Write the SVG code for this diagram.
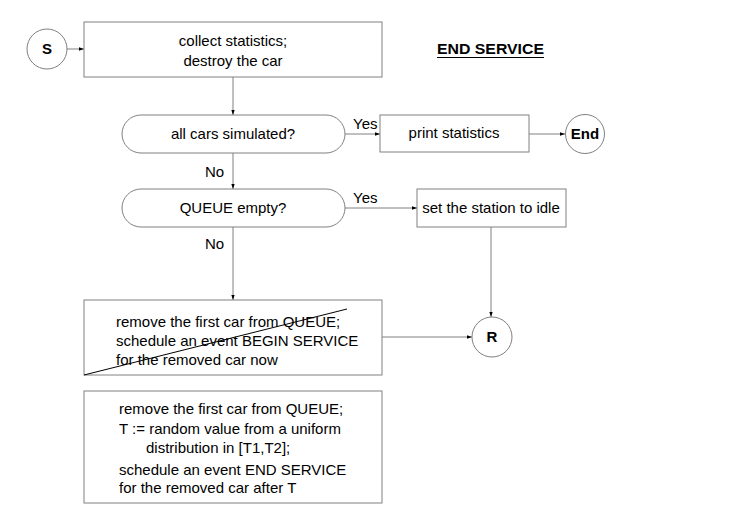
<svg xmlns="http://www.w3.org/2000/svg" width="743" height="506" viewBox="0 0 743 506">
<style>
.box{fill:#fff;stroke:#808080;stroke-width:1}
.ln{fill:none;stroke:#808080;stroke-width:1}
.t{font-family:"Liberation Sans",Arial,sans-serif;font-size:15px;fill:#000}
.c{text-anchor:middle}
.b{font-weight:bold}
</style>
<defs>
<marker id="ah" viewBox="0 0 6 6" refX="6" refY="3" markerWidth="5" markerHeight="5" markerUnits="userSpaceOnUse" orient="auto">
<path d="M0,1 L6,3 L0,5 Z" fill="#000"/>
</marker>
</defs>
<rect width="743" height="506" fill="#fff"/>
<g id="connectors">
<line class="ln" x1="67" y1="49" x2="84" y2="49" marker-end="url(#ah)"/>
<line class="ln" x1="233" y1="77" x2="233" y2="115" marker-end="url(#ah)"/>
<line class="ln" x1="345" y1="134" x2="380" y2="134" marker-end="url(#ah)"/>
<line class="ln" x1="529" y1="134" x2="565" y2="134" marker-end="url(#ah)"/>
<line class="ln" x1="233" y1="153" x2="233" y2="189" marker-end="url(#ah)"/>
<line class="ln" x1="345" y1="208" x2="417" y2="208" marker-end="url(#ah)"/>
<line class="ln" x1="491" y1="227" x2="491" y2="317" marker-end="url(#ah)"/>
<line class="ln" x1="233" y1="227" x2="233" y2="300" marker-end="url(#ah)"/>
<line class="ln" x1="382" y1="337" x2="472" y2="337" marker-end="url(#ah)"/>
<text class="t" x="353" y="129">Yes</text>
<text class="t" x="353" y="203">Yes</text>
<text class="t" x="205" y="177">No</text>
<text class="t" x="205" y="249">No</text>
</g>
<g id="start">
<circle class="box" cx="47" cy="49" r="20"/>
<text class="t c b" x="47" y="54">S</text>
</g>
<g id="collect">
<rect class="box" x="84" y="22" width="298" height="55"/>
<text class="t c" x="233" y="46">collect statistics;</text>
<text class="t c" x="233" y="66">destroy the car</text>
</g>
<g id="title">
<text class="t b" x="437" y="54" font-size="16" textLength="107" lengthAdjust="spacingAndGlyphs">END SERVICE</text>
<line x1="437" y1="57.5" x2="544" y2="57.5" stroke="#000" stroke-width="1.2"/>
</g>
<g id="allcars">
<rect class="box" x="122" y="115" width="223" height="38" rx="19" ry="19"/>
<text class="t c" x="233" y="139">all cars simulated?</text>
</g>
<g id="print">
<rect class="box" x="380" y="115" width="149" height="37"/>
<text class="t c" x="454" y="138">print statistics</text>
</g>
<g id="end">
<circle class="box" cx="585" cy="134" r="19.5"/>
<text class="t c b" x="585" y="139">End</text>
</g>
<g id="queueempty">
<rect class="box" x="122" y="189" width="223" height="38" rx="19" ry="19"/>
<text class="t c" x="233" y="213">QUEUE empty?</text>
</g>
<g id="idle">
<rect class="box" x="417" y="189" width="149" height="38"/>
<text class="t c" x="491" y="213">set the station to idle</text>
</g>
<g id="removebegin">
<rect class="box" x="84" y="300" width="298" height="75"/>
<text class="t" x="116" y="327">remove the first car from QUEUE;</text>
<text class="t" x="116" y="346">schedule an event BEGIN SERVICE</text>
<text class="t" x="116" y="365">for the removed car now</text>
<line x1="84" y1="375" x2="347" y2="309" stroke="#000" stroke-width="1"/>
</g>
<g id="r">
<circle class="box" cx="492" cy="337" r="20"/>
<text class="t c b" x="492" y="342">R</text>
</g>
<g id="removeend">
<rect class="box" x="84" y="391" width="298" height="112"/>
<text class="t" x="119" y="414">remove the first car from QUEUE;</text>
<text class="t" x="119" y="434">T := random value from a uniform</text>
<text class="t" x="146" y="453">distribution in [T1,T2];</text>
<text class="t" x="119" y="475">schedule an event END SERVICE</text>
<text class="t" x="119" y="493">for the removed car after T</text>
</g>
</svg>
